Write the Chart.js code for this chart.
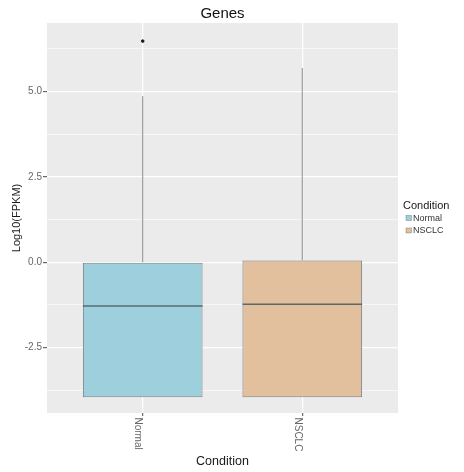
<!DOCTYPE html>
<html>
<head>
<meta charset="utf-8">
<script src="https://cdn.jsdelivr.net/npm/chart.js@4/dist/chart.umd.min.js"></script>
<style>
  html, body { margin: 0; padding: 0; background: #ffffff; }
  #wrap { width: 464px; height: 472px; }
</style>
</head>
<body>
<div id="wrap"><canvas id="chart" width="464" height="472"></canvas></div>
<script>
// Box-plot summary of log10(FPKM) per condition
const categories   = ['Normal', 'NSCLC'];
const lowerWhisker = [-3.95, -3.95];
const q1           = [-3.95, -3.95];
const median       = [-1.28, -1.23];
const q3           = [0.00, 0.05];
const upperWhisker = [4.86, 5.68];
const outliers     = [[6.47], []];
const fillColors   = ['#9dcfdc', '#e2bf9d'];
const yTickValues  = [-2.5, 0, 2.5, 5];

const FONT = "'Liberation Sans', Arial, Helvetica, sans-serif";
const isMajor = v => Math.abs(v / 2.5 - Math.round(v / 2.5)) < 1e-6;

// boxes as floating bars, one dataset per condition
const boxSets = categories.map((c, i) => ({
  type: 'bar',
  label: c,
  data: [{ x: i + 1, y: [q1[i], q3[i]] }],
  backgroundColor: fillColors[i],
  borderColor: 'rgba(85,95,98,0.75)',
  borderWidth: 1,
  borderSkipped: false,
  grouped: false,
  categoryPercentage: 1,
  barPercentage: 0.75,
  order: 2
}));

const outlierSet = {
  type: 'scatter',
  label: 'outliers',
  data: outliers.flatMap((arr, i) => arr.map(v => ({ x: i + 1, y: v }))),
  backgroundColor: '#1a1a1a',
  borderColor: '#1a1a1a',
  pointRadius: 1.3,
  pointHoverRadius: 1.3,
  order: 1
};

// panel background
const panelBg = {
  id: 'panelBg',
  beforeDraw(chart) {
    const { ctx, chartArea: a } = chart;
    ctx.save();
    ctx.fillStyle = '#ebebeb';
    ctx.fillRect(a.left, a.top, a.right - a.left, a.bottom - a.top);
    ctx.restore();
  }
};

// whiskers and median lines
const boxLines = {
  id: 'boxLines',
  afterDatasetsDraw(chart) {
    const { ctx } = chart;
    const x = chart.scales.x, y = chart.scales.y;
    ctx.save();
    categories.forEach((c, i) => {
      const meta = chart.getDatasetMeta(i);
      const bar = meta.data[0];
      if (!bar) return;
      const cx = x.getPixelForValue(i + 1);
      const half = bar.width / 2;
      ctx.strokeStyle = '#8a8a8a';
      ctx.lineWidth = 1;
      ctx.beginPath();
      ctx.moveTo(cx, y.getPixelForValue(q3[i]));
      ctx.lineTo(cx, y.getPixelForValue(upperWhisker[i]));
      ctx.moveTo(cx, y.getPixelForValue(q1[i]));
      ctx.lineTo(cx, y.getPixelForValue(lowerWhisker[i]));
      ctx.stroke();
      ctx.strokeStyle = 'rgba(70,90,95,0.85)';
      ctx.lineWidth = 1.6;
      const my = y.getPixelForValue(median[i]);
      ctx.beginPath();
      ctx.moveTo(cx - half, my);
      ctx.lineTo(cx + half, my);
      ctx.stroke();
    });
    ctx.restore();
  }
};

// rotated category labels and the legend on the right
const extras = {
  id: 'extras',
  afterDraw(chart) {
    const { ctx, chartArea: a } = chart;
    const x = chart.scales.x;
    ctx.save();
    ctx.fillStyle = '#666666';
    ctx.font = `10px ${FONT}`;
    ctx.textBaseline = 'middle';
    ctx.textAlign = 'left';
    categories.forEach((c, i) => {
      const px = x.getPixelForValue(i + 1) - 4.5;
      ctx.save();
      ctx.translate(px, a.bottom + 4.5);
      ctx.rotate(Math.PI / 2);
      ctx.fillText(c, 0, 0);
      ctx.restore();
    });

    // legend
    const lx = a.right + 5;
    ctx.fillStyle = '#1a1a1a';
    ctx.font = `11px ${FONT}`;
    ctx.fillText('Condition', lx, 205.5);
    ctx.font = `9px ${FONT}`;
    categories.forEach((c, i) => {
      const cy = 218 + i * 12.5;
      ctx.fillStyle = fillColors[i];
      ctx.fillRect(lx + 3, cy - 2.5, 5.5, 5);
      ctx.strokeStyle = 'rgba(85,95,98,0.6)';
      ctx.lineWidth = 0.6;
      ctx.strokeRect(lx + 3, cy - 2.5, 5.5, 5);
      ctx.fillStyle = '#333333';
      ctx.fillText(c, lx + 10, cy + 0.5);
    });
    ctx.restore();
  }
};

new Chart(document.getElementById('chart'), {
  type: 'bar',
  data: { datasets: [...boxSets, outlierSet] },
  options: {
    responsive: false,
    animation: false,
    events: [],
    layout: { padding: { left: 0, right: 66, top: 0, bottom: 0 } },
    plugins: {
      legend: { display: false },
      tooltip: { enabled: false },
      title: {
        display: true,
        text: 'Genes',
        fullSize: false,
        color: '#111111',
        font: { family: FONT, size: 15, weight: 'normal' },
        padding: { top: 5, bottom: 0 }
      }
    },
    scales: {
      x: {
        type: 'linear',
        min: 0.4,
        max: 2.6,
        offset: false,
        afterBuildTicks(s) { s.ticks = categories.map((c, i) => ({ value: i + 1 })); },
        afterFit(s) { s.height = 59; },
        ticks: { display: false },
        grid: { offset: false, color: '#ffffff', lineWidth: 1.2, tickLength: 3, tickColor: '#666666', drawTicks: true },
        border: { display: false },
        title: {
          display: true,
          text: 'Condition',
          color: '#1a1a1a',
          font: { family: FONT, size: 12.5 },
          padding: { top: 0, bottom: 3 }
        }
      },
      y: {
        type: 'linear',
        min: -4.41,
        max: 7.0,
        afterBuildTicks(s) {
          const t = [];
          for (let v = -3.75; v <= 6.25 + 1e-9; v += 1.25) t.push({ value: Math.round(v * 100) / 100 });
          s.ticks = t;
        },
        afterFit(s) { s.width = 47; },
        ticks: {
          color: '#666666',
          font: { family: FONT, size: 10 },
          padding: 1,
          autoSkip: false,
          callback: v => (yTickValues.some(t => Math.abs(t - v) < 1e-6) ? v.toFixed(1) : '')
        },
        grid: {
          color: '#ffffff',
          lineWidth: c => (c.tick && isMajor(c.tick.value) ? 1.2 : 0.6),
          tickLength: 4,
          tickColor: c => (c.tick && isMajor(c.tick.value) ? '#666666' : 'rgba(0,0,0,0)')
        },
        border: { display: false },
        title: {
          display: true,
          text: 'Log10(FPKM)',
          color: '#1a1a1a',
          font: { family: FONT, size: 11 },
          padding: { top: 10, bottom: 0 }
        }
      }
    }
  },
  plugins: [panelBg, boxLines, extras]
});
</script>
</body>
</html>
